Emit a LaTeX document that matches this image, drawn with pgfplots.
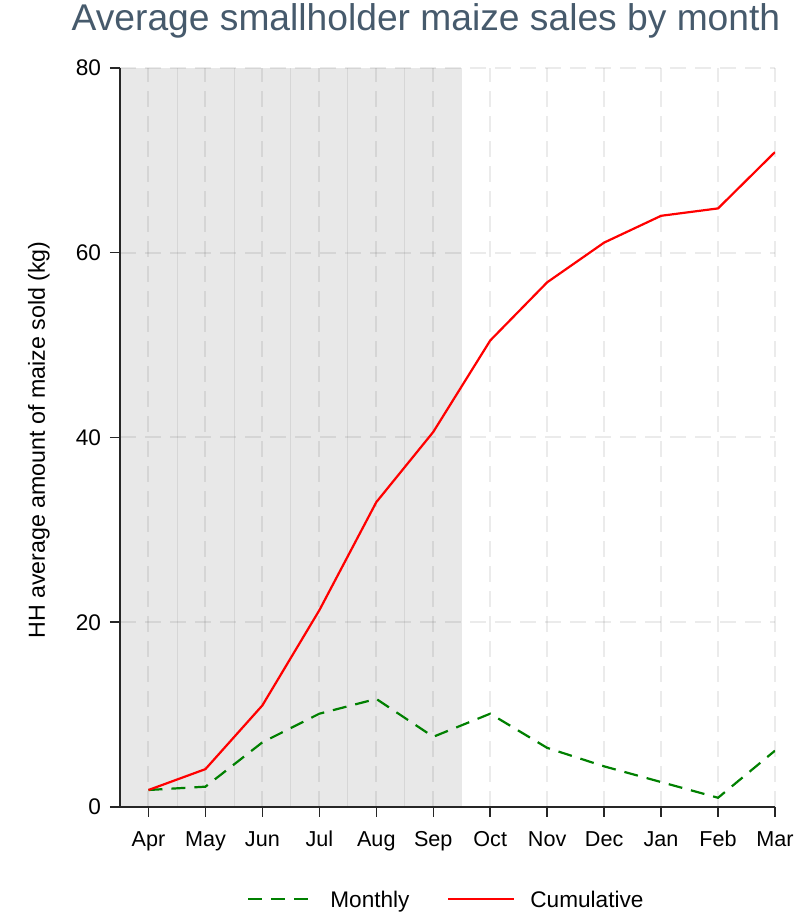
\documentclass[border=0pt]{standalone}
\usepackage{fontspec}
\setmainfont{Liberation Sans}
\usepackage{pgfplots}
\pgfplotsset{compat=1.18}
\definecolor{titlecol}{HTML}{465A6C}
\definecolor{shade}{HTML}{E8E8E8}
\definecolor{shadeline}{HTML}{D6D6D6}
\definecolor{mgreen}{HTML}{008000}
\pgfplotsset{base/.style={
  at={(0pt,0pt)}, anchor=south west,
  scale only axis, width=327.5pt, height=369.5pt,
  xmin=-0.5, xmax=11, ymin=0, ymax=80}}
\begin{document}
\begin{tikzpicture}
\path[use as bounding box] (-60pt,-53.5pt) rectangle (345pt,403.5pt);
\begin{axis}[base, hide axis]
\addplot[fill=shade, draw=none] coordinates {(-0.5,0) (-0.5,80) (5.5,80) (5.5,0)} -- cycle;
\addplot[ycomb, shadeline, line width=0.4pt, mark=none] coordinates {(0.5,80) (1.5,80) (2.5,80) (3.5,80) (4.5,80)};
\end{axis}
\begin{axis}[
  base,
  axis x line=bottom, axis y line=left,
  axis line style={line width=0.75pt, black!85, -},
  xtick={0,...,11},
  xticklabels={Apr,May,Jun,Jul,Aug,Sep,Oct,Nov,Dec,Jan,Feb,Mar},
  ytick={0,20,40,60,80},
  tick align=outside, major tick length=5pt,
  tick style={line width=0.75pt, black!85},
  /pgf/number format/assume math mode=true,
  tick label style={font=\fontsize{10.8pt}{12pt}\selectfont},
  xticklabel style={yshift=-3pt, text height=8pt, text depth=2.5pt},
  yticklabel style={font=\fontsize{11.3pt}{12pt}\selectfont, xshift=-1pt},
  grid=major,
  major grid style={black, opacity=0.08, line width=1pt, dash pattern=on 8pt off 4.5pt},
]
\addplot[mgreen, line width=1.1pt, dash pattern=on 7pt off 4.5pt]
  coordinates {(0,1.84) (1,2.2) (2,7.0) (3,10.1) (4,11.7) (5,7.6) (6,10.1) (7,6.4) (8,4.4) (9,2.7) (10,1.0) (11,6.1)};
\addplot[red, line width=1.1pt]
  coordinates {(0,1.84) (1,4.1) (2,11.0) (3,21.3) (4,33.0) (5,40.6) (6,50.5) (7,56.8) (8,61.1) (9,64.0) (10,64.8) (11,70.9)};
\end{axis}
\node[rotate=90, font=\fontsize{11.6pt}{13pt}\selectfont] at (-40.5pt,183.5pt) {HH average amount of maize sold (kg)};
\node[text=titlecol, font=\fontsize{18.6pt}{20pt}\selectfont] at (153pt,393pt) {Average smallholder maize sales by month};
% legend
\draw[mgreen, line width=1.1pt, dash pattern=on 7pt off 4.5pt] (64pt,-46pt) -- (97pt,-46pt);
\node[anchor=base west, inner sep=0pt, font=\fontsize{11.3pt}{12pt}\selectfont] at (105pt,-50pt) {Monthly};
\draw[red, line width=1.1pt] (164pt,-46pt) -- (197pt,-46pt);
\node[anchor=base west, inner sep=0pt, font=\fontsize{11.3pt}{12pt}\selectfont] at (205pt,-50pt) {Cumulative};
\end{tikzpicture}
\end{document}
